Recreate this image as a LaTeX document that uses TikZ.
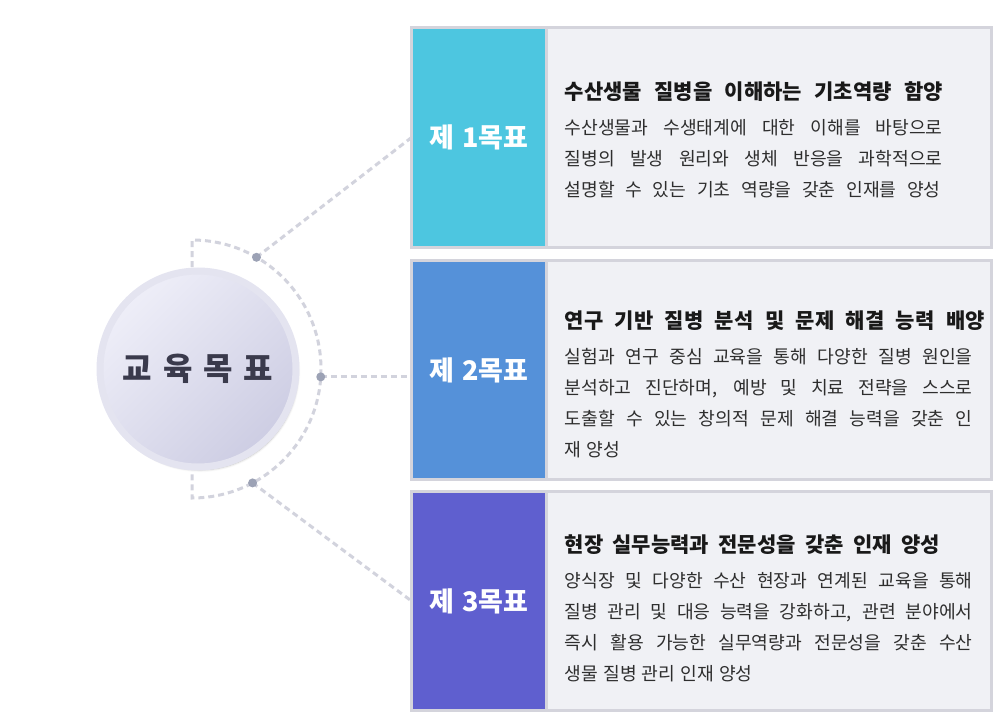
\documentclass[tikz,border=0pt]{standalone}
\usepackage{fontspec}
\setmainfont{Noto Sans CJK KR}
\newfontfamily\bodyfont{Noto Sans CJK KR}[WordSpace=1.25]
\usetikzlibrary{positioning, calc, shadows.blur}
\definecolor{goalcyan}{HTML}{4DC6E0}
\definecolor{goalblue}{HTML}{5591D9}
\definecolor{goalviolet}{HTML}{5F5FCF}
\definecolor{panelfill}{HTML}{F0F1F5}
\definecolor{edgegray}{HTML}{D4D4DC}
\definecolor{dashgray}{HTML}{D2D3DD}
\definecolor{dotgray}{HTML}{9CA2B5}
\definecolor{textdark}{HTML}{2E2E2E}
\definecolor{hubtext}{HTML}{3A3A4C}
\definecolor{hubring}{HTML}{E4E4F0}
\definecolor{hublight}{HTML}{EEEEF8}
\definecolor{hubdark}{HTML}{CDCDE3}
\tikzset{
  labbox/.style={
    rectangle, outer sep=0pt,
    minimum width=135pt, minimum height=219pt,
    draw=edgegray, line width=3pt, fill=#1,
    text=white, font=\fontsize{27}{28}\selectfont\bfseries
  },
  descbox/.style={
    rectangle, outer sep=0pt,
    minimum width=445pt, minimum height=219pt,
    draw=edgegray, line width=3pt, fill=panelfill
  },
  desctext/.style={
    inner sep=0pt, align=left, text=textdark,
    font=\bodyfont\fontsize{18.2}{31}\selectfont
  },
  hubnode/.style={
    circle, minimum size=196pt, line width=7pt,
    draw=hubring, top color=hublight, bottom color=hubdark,
    shading angle=45, text=hubtext,
    font=\fontsize{32}{34}\selectfont\bfseries,
    blur shadow={shadow xshift=2pt, shadow yshift=-3pt, shadow opacity=25}
  },
  dashline/.style={dash pattern=on 6pt off 4pt, line width=3pt, draw=dashgray},
  joint/.style={circle, fill=dotgray, inner sep=0pt, minimum size=9pt},
}
\newcommand{\goalhead}[2]{{\fontsize{21}{31}\selectfont\bfseries\color{black!90}\makebox[#1][s]{#2}}}
\newcommand{\fillline}[2]{\makebox[#1][s]{#2}}

\begin{document}
\begin{tikzpicture}[x=1pt, y=1pt]
  \useasboundingbox (0,0) rectangle (1008,-727);

  % goal boxes
  \node[labbox=goalcyan]   (lab1) at (479,-137.5) {제\hspace{8pt}1목표};
  \node[labbox=goalblue]   (lab2) at (479,-370)   {제\hspace{8pt}2목표};
  \node[labbox=goalviolet] (lab3) at (479,-601)   {제\hspace{8pt}3목표};

  \node[descbox, right=0pt of lab1] (desc1) {};
  \node[descbox, right=0pt of lab2] (desc2) {};
  \node[descbox, right=0pt of lab3] (desc3) {};

  \node[desctext, right=18pt of desc1.west, yshift=-2pt] (txt1)
       {\goalhead{378pt}{수산생물 질병을 이해하는 기초역량 함양}\\[4pt]
        \fillline{378pt}{수산생물과 수생태계에 대한 이해를 바탕으로}\\
        \fillline{378pt}{질병의 발생 원리와 생체 반응을 과학적으로}\\
        \fillline{376pt}{설명할 수 있는 기초 역량을 갖춘 인재를 양성}};
  \node[desctext, right=18pt of desc2.west, yshift=-14pt] (txt2)
       {\goalhead{420pt}{연구 기반 질병 분석 및 문제 해결 능력 배양}\\[4pt]
        \fillline{408pt}{실험과 연구 중심 교육을 통해 다양한 질병 원인을}\\
        \fillline{408pt}{분석하고 진단하며, 예방 및 치료 전략을 스스로}\\
        \fillline{408pt}{도출할 수 있는 창의적 문제 해결 능력을 갖춘 인}\\
        재 양성};
  \node[desctext, right=18pt of desc3.west, yshift=-7pt] (txt3)
       {\goalhead{375pt}{현장 실무능력과 전문성을 갖춘 인재 양성}\\[4pt]
        \fillline{408pt}{양식장 및 다양한 수산 현장과 연계된 교육을 통해}\\
        \fillline{408pt}{질병 관리 및 대응 능력을 강화하고, 관련 분야에서}\\
        \fillline{408pt}{즉시 활용 가능한 실무역량과 전문성을 갖춘 수산}\\
        생물 질병 관리 인재 양성};

  % arc round the hub
  \coordinate (ctr) at (192,-369);
  \coordinate (p1) at ($(ctr)+(60:129)$);
  \coordinate (p2) at ($(ctr)+(-3.5:129)$);
  \coordinate (p3) at ($(ctr)+(-62:129)$);
  \draw[dashline] (192,-267) -- (192,-240)
                  arc[start angle=90, end angle=-90, radius=129] -- (192,-472);
  \draw[dashline] (p1) -- (lab1.west);
  \draw[dashline] (p2) -- (p2 -| lab2.west);
  \draw[dashline] (p3) -- (lab3.west);
  \node[joint] (d1) at (p1) {};
  \node[joint] (d2) at (p2) {};
  \node[joint] (d3) at (p3) {};

  \node[hubnode] (hub) at (198,-369)
       {교\hspace{11pt}육\hspace{11pt}목\hspace{11pt}표};
\end{tikzpicture}
\end{document}
